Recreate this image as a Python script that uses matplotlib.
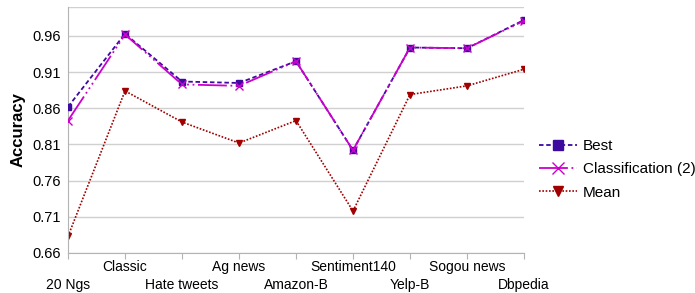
import numpy as np
import matplotlib.pyplot as plt

# Datasets and accuracy values
datasets = ['20 Ngs', 'Classic', 'Hate tweets', 'Ag news', 'Amazon-B',
            'Sentiment140', 'Yelp-B', 'Sogou news', 'Dbpedia']
best = [0.862, 0.963, 0.897, 0.895, 0.925, 0.802, 0.944, 0.943, 0.982]
classif = [0.843, 0.962, 0.893, 0.891, 0.925, 0.802, 0.944, 0.943, 0.981]
mean = [0.683, 0.884, 0.841, 0.812, 0.843, 0.718, 0.879, 0.891, 0.914]
yticks = [0.66, 0.71, 0.76, 0.81, 0.86, 0.91, 0.96]

plt.rcParams['font.family'] = ['Liberation Sans', 'DejaVu Sans']

fig = plt.figure(figsize=(6.95, 2.93), dpi=100)
ax = fig.add_axes([68 / 695, 40 / 293, 456 / 695, 246 / 293])

x = np.arange(len(datasets))
ax.plot(x, best, color='#3d0aa0', linestyle=(0, (2.5, 1.5)), linewidth=1.3,
        marker='s', markersize=5, label='Best', zorder=3)
ax.plot(x, classif, color='#cc00cc', linestyle=(0, (16, 2, 1, 2, 1, 2, 1, 2)),
        linewidth=1.3, marker='x', markersize=6, label='Classification (2)', zorder=4)
ax.plot(x, mean, color='#a00000', linestyle=(0, (1, 1)), linewidth=1.2,
        marker='v', markersize=5, label='Mean', zorder=2)

ax.set_xlim(0, len(datasets) - 1)
ax.set_ylim(0.66, 1.0)
ax.set_yticks(yticks)
ax.set_yticklabels(['%.2f' % v for v in yticks], fontsize=10.5)
ax.set_xticks(x)
ax.set_xticklabels([d if i % 2 else '\n' + d for i, d in enumerate(datasets)],
                   fontsize=10, linespacing=1.35)
ax.tick_params(axis='x', length=4, color='#b3b3b3', pad=1)
ax.tick_params(axis='y', length=0, pad=5)

ax.grid(axis='y', color='#d0d0d0', linewidth=1)
ax.axhline(1.0, color='#d0d0d0', linewidth=1)
for s in ['top', 'right']:
    ax.spines[s].set_visible(False)
ax.spines['left'].set_color('#b3b3b3')
ax.spines['bottom'].set_color('#b3b3b3')
ax.set_axisbelow(True)

ax.set_ylabel('Accuracy', fontsize=12, fontweight='bold', labelpad=5)

ax.legend(loc='center left', bbox_to_anchor=(1.02, 0.34), frameon=False,
          fontsize=11, handlelength=2.5, handletextpad=0.35, labelspacing=0.6,
          markerscale=1.5, borderaxespad=0)

fig.savefig('out.png', dpi=100)
